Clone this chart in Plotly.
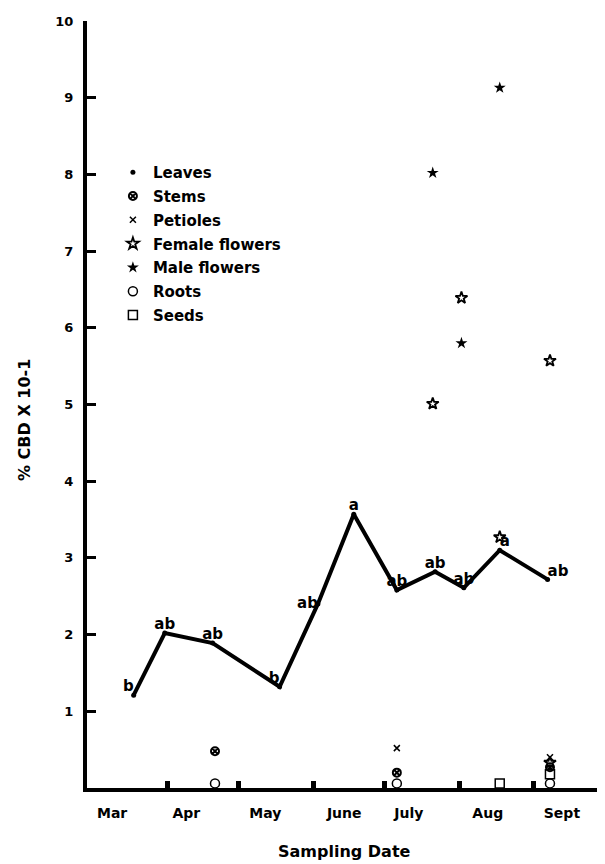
import plotly.graph_objects as go

# ---- data ----
sample_dates = ["1981-03-18", "1981-03-31", "1981-04-20", "1981-05-18", "1981-06-03",
                "1981-06-18", "1981-07-06", "1981-07-22", "1981-08-03", "1981-08-18",
                "1981-09-07"]
leaves_cbd = [1.21, 2.02, 1.89, 1.32, 2.40, 3.57, 2.58, 2.82, 2.61, 3.10, 2.72]
leaves_letters = ["b", "ab", "ab", "b", "ab", "a", "ab", "ab", "ab", "a", "ab"]
letter_pos = ["top left", "top center", "top center", "top left", "middle left",
              "top center", "top center", "top center", "top center", "top right", "top right"]

stems_dates = ["1981-04-21", "1981-07-06", "1981-09-08"]
stems_cbd = [0.48, 0.20, 0.27]
petiole_dates = ["1981-07-06", "1981-09-08"]
petiole_cbd = [0.52, 0.40]
female_dates = ["1981-07-21", "1981-08-02", "1981-08-18", "1981-09-08", "1981-09-08"]
female_cbd = [5.01, 6.39, 3.27, 5.57, 0.33]
male_dates = ["1981-07-21", "1981-08-02", "1981-08-18"]
male_cbd = [8.02, 5.80, 9.13]
roots_dates = ["1981-04-21", "1981-07-06", "1981-09-08"]
roots_cbd = [0.06, 0.06, 0.06]
seeds_dates = ["1981-08-18", "1981-09-08"]
seeds_cbd = [0.06, 0.18]

month_names = ["Mar", "Apr", "May", "June", "July", "Aug", "Sept"]
month_label_dates = ["1981-03-09", "1981-04-09", "1981-05-12", "1981-06-14",
                     "1981-07-11", "1981-08-13", "1981-09-13"]
month_tick_dates = ["1981-04-01", "1981-05-01", "1981-06-01", "1981-07-01",
                    "1981-08-01", "1981-09-01"]
y_ticks = [1, 2, 3, 4, 5, 6, 7, 8, 9, 10]

FONT = "DejaVu Sans"
BOLD = dict(family=FONT, color="black", weight="bold")

fig = go.Figure()

# leaves line with significance letters
fig.add_trace(go.Scatter(
    x=sample_dates, y=leaves_cbd, mode="lines+text",
    text=leaves_letters, textposition=letter_pos,
    textfont=dict(size=15, **BOLD),
    line=dict(color="black", width=4), showlegend=False, cliponaxis=False,
))

def marker_trace(name, xs, ys, symbol, size, lw, group):
    return go.Scatter(
        x=xs, y=ys, mode="markers", name=name, legendgroup=group,
        marker=dict(symbol=symbol, size=size, color="black",
                    line=dict(color="black", width=lw)),
        cliponaxis=False,
    )

fig.add_trace(marker_trace("Leaves", sample_dates, leaves_cbd, "circle", 5, 0, "g1"))
fig.add_trace(marker_trace("Stems", stems_dates, stems_cbd, "circle-x-open", 8, 2, "g2"))
fig.add_trace(marker_trace("Petioles", petiole_dates, petiole_cbd, "x-thin-open", 6, 1.5, "g3"))
fig.add_trace(marker_trace("Female flowers", female_dates, female_cbd, "star-open", 9, 1.8, "g4"))
fig.add_trace(marker_trace("Male flowers", male_dates, male_cbd, "star", 9, 0, "g5"))
fig.add_trace(marker_trace("Roots", roots_dates, roots_cbd, "circle-open", 9, 1.5, "g6"))
fig.add_trace(marker_trace("Seeds", seeds_dates, seeds_cbd, "square-open", 9, 1.5, "g7"))

fig.update_layout(
    width=597, height=856,
    margin=dict(l=79, r=0, t=13, b=76),
    paper_bgcolor="white", plot_bgcolor="white",
    font=dict(family=FONT, color="black"),
    showlegend=True,
    legend=dict(x=0.05, y=0.824, xanchor="left", yanchor="top",
                bgcolor="rgba(0,0,0,0)", borderwidth=0,
                font=dict(size=15, **BOLD), traceorder="grouped",
                tracegroupgap=1.3, itemwidth=30),
    xaxis=dict(
        type="date", range=["1981-02-26 12:00", "1981-10-01"],
        tickmode="array", tickvals=month_label_dates, ticktext=month_names,
        ticks="", showgrid=False, zeroline=False,
        showline=True, linecolor="black", linewidth=4,
        tickfont=dict(size=14, **BOLD), ticklabelstandoff=9,
        minor=dict(tickmode="array", tickvals=month_tick_dates, ticks="inside",
                   ticklen=7, tickwidth=5, tickcolor="black", showgrid=False),
    ),
    yaxis=dict(
        range=[0, 10], tickmode="array", tickvals=y_ticks,
        ticks="inside", ticklen=9, tickwidth=3, tickcolor="black",
        showgrid=False, zeroline=False,
        showline=True, linecolor="black", linewidth=4,
        tickfont=dict(size=13, **BOLD), ticklabelstandoff=7,
    ),
    annotations=[
        dict(text="% CBD X 10-1", xref="paper", yref="paper",
             x=(24 - 87) / 518, y=(788 - 420) / 767, textangle=-90,
             xanchor="center", yanchor="middle",
             showarrow=False, font=dict(size=16, **BOLD)),
        dict(text="Sampling Date", xref="paper", yref="paper",
             x=(344 - 87) / 518, y=(788 - 851) / 767,
             xanchor="center", yanchor="middle", showarrow=False,
             font=dict(size=16, **BOLD)),
    ],
)

fig.write_html("out.html")
